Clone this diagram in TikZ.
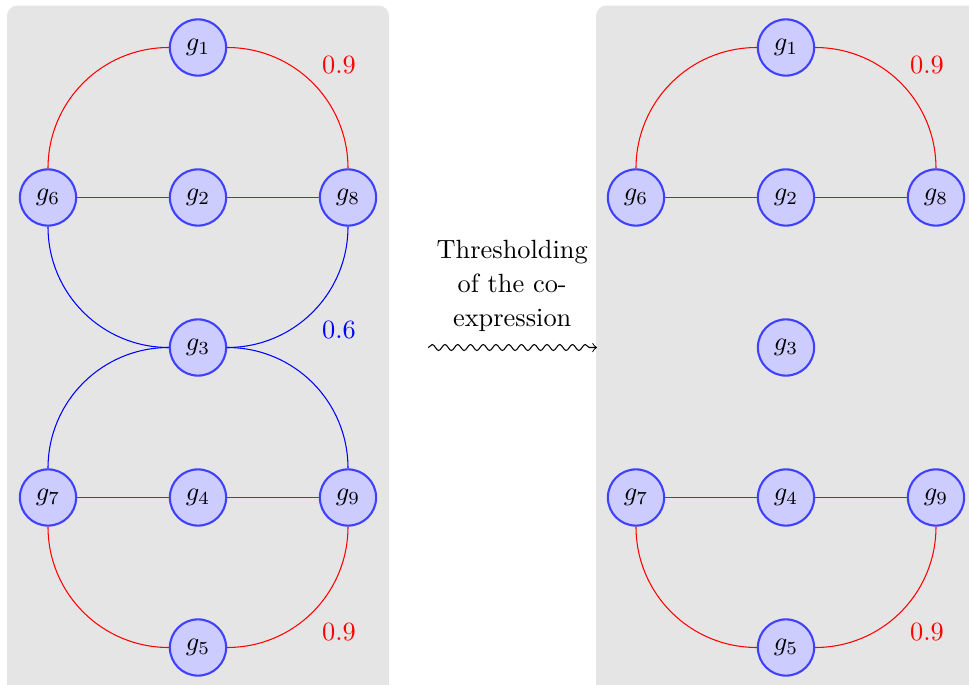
\documentclass[tikz,border=0pt]{standalone}
\usetikzlibrary{decorations.pathmorphing}
\usepackage{amsmath}
\usepackage{amssymb}

\begin{document}
\begin{tikzpicture}[gene/.style={draw=blue!75, thick, fill=blue!20, circle, minimum size=0.75cm, inner sep=0pt},
    panel/.style={fill=gray!20, rounded corners=4pt}]
  \useasboundingbox (-2.64,-4.5) rectangle (10.28,4.6333);

  % panels
  \fill[panel] (-2.547,-4.65) rectangle (2.547,4.56);
  \fill[panel] (5.307,-4.65) rectangle (10.45,4.56);

  % full co-expression network
  \node[gene] (g1) at (0,4) {$g_1$};
  \node[gene] (g6) at (-2,2) {$g_6$};
  \node[gene] (g2) at (0,2) {$g_2$};
  \node[gene] (g8) at (2,2) {$g_8$};
  \node[gene] (g3) at (0,0) {$g_3$};
  \node[gene] (g7) at (-2,-2) {$g_7$};
  \node[gene] (g4) at (0,-2) {$g_4$};
  \node[gene] (g9) at (2,-2) {$g_9$};
  \node[gene] (g5) at (0,-4) {$g_5$};

  \draw[red] (g1) to[out=180, in=90] (g6);
  \draw[red] (g1) to[out=0, in=90] (g8);
  \draw[red] (g6) to[out=0, in=180] (g2);
  \draw[red] (g2) to[out=0, in=180] (g8);
  \draw[blue] (g6) to[out=-90, in=180] (g3);
  \draw[blue] (g8) to[out=-90, in=0] (g3);
  \draw[blue] (g3) to[out=180, in=90] (g7);
  \draw[blue] (g3) to[out=0, in=90] (g9);
  \draw[red] (g7) to[out=0, in=180] (g4);
  \draw[red] (g4) to[out=0, in=180] (g9);
  \draw[red] (g7) to[out=-90, in=180] (g5);
  \draw[red] (g9) to[out=-90, in=0] (g5);

  \node[red] (high1) at (1.88,3.77) {0.9};
  \node[blue] (low) at (1.88,0.23) {0.6};
  \node[red] (high2) at (1.88,-3.79) {0.9};

  % thresholded network
  \node[gene] (g1') at (7.84,4) {$g_1$};
  \node[gene] (g6') at (5.84,2) {$g_6$};
  \node[gene] (g2') at (7.84,2) {$g_2$};
  \node[gene] (g8') at (9.84,2) {$g_8$};
  \node[gene] (g3') at (7.84,0) {$g_3$};
  \node[gene] (g7') at (5.84,-2) {$g_7$};
  \node[gene] (g4') at (7.84,-2) {$g_4$};
  \node[gene] (g9') at (9.84,-2) {$g_9$};
  \node[gene] (g5') at (7.84,-4) {$g_5$};

  \draw[red] (g1') to[out=180, in=90] (g6');
  \draw[red] (g1') to[out=0, in=90] (g8');
  \draw[red] (g6') to[out=0, in=180] (g2');
  \draw[red] (g2') to[out=0, in=180] (g8');
  \draw[red] (g7') to[out=0, in=180] (g4');
  \draw[red] (g4') to[out=0, in=180] (g9');
  \draw[red] (g7') to[out=-90, in=180] (g5');
  \draw[red] (g9') to[out=-90, in=0] (g5');

  \node[red] (high1') at (9.72,3.77) {0.9};
  \node[red] (high2') at (9.72,-3.79) {0.9};

  % thresholding step
  \coordinate (from) at (3.07,0);
  \coordinate (to) at (5.32,0);
  \draw[->, decorate, decoration={snake, amplitude=0.4mm, segment length=1.7mm, post length=1mm}] (from) -- (to);
  \node[align=center] (step) at (4.19,0.82) {Thresholding\\[1pt]of the co-\\[1pt]expression};
\end{tikzpicture}
\end{document}
